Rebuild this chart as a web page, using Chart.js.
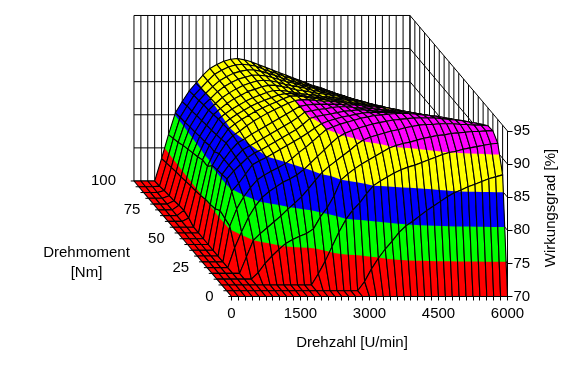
<!DOCTYPE html>
<html>
<head>
<meta charset="utf-8">
<title>Wirkungsgrad</title>
<script src="https://cdn.jsdelivr.net/npm/chart.js@4"></script>
<style>
  html, body { margin: 0; padding: 0; background: #ffffff; }
  canvas { display: block; }
</style>
</head>
<body>
<canvas id="chart" width="580" height="371"></canvas>
<script>
const speedValues = [0,150,300,450,600,750,900,1050,1200,1350,1500,1650,1800,1950,2100,2250,2400,2550,2700,2850,3000,3150,3300,3450,3600,3750,3900,4050,4200,4350,4500,4650,4800,4950,5100,5250,5400,5550,5700,5850,6000];
const torqueValues = [0,5,10,15,20,25,30,35,40,45,50,55,60,65,70,75,80,85,90,95,100];
const effTicks = [70,75,80,85,90,95];
const torqueLabels = [0,25,50,75,100];
const bandColors = ['#ff0000','#00ff00','#0000ff','#ffff00','#ff00ff'];

// efficiency in %, one row per torque value, one column per speed value
const eff0   = [70,70,70,70,70,70,70,70,70,70,70,70,70,70,70,70,70,70,70,70,70,70,70,70,70,70,70,70,70,70,70,70,70,70,70,70,70,70,70,70,70];
const eff5   = [70,70,70,70,70,70,70,70,70,70,70,70,70,70,70,70,70,70,70,70,71.4,73.3,74.9,76.3,77.5,78.8,79.8,80.5,81.3,82.1,82.8,83.5,84.2,84.8,85.2,85.7,86.1,86.5,86.9,87.2,87.5];
const eff10  = [70,70,70,70,70,70,70,70,70,70,70,70,70,70,71.7,73.6,75.8,78,79.9,81.3,82.4,83.8,85,85.7,86.3,86.9,87.4,87.8,88.1,88.5,88.9,89.3,89.7,90,90.2,90.5,90.7,90.9,91.1,91.3,91.4];
const eff15  = [70,70,70,70,70,70,71,72.4,73.5,74.5,75.4,76,76.5,76.9,77.6,79.4,80.8,82.6,85,85.9,86.7,87.4,88,88.6,89.2,89.8,90.2,90.5,90.7,91,91.3,91.5,91.7,91.8,92,92.1,92.2,92.3,92.3,92.4,92.4];
const eff20  = [70,70,70,70,70,72.5,75,76,76.9,77.8,78.7,79.7,80.6,81.6,82.8,84.1,85.3,86.2,87,87.8,88.6,89.5,90.2,90.6,90.9,91.2,91.5,91.7,92,92.2,92.4,92.5,92.5,92.6,92.6,92.6,92.5,92.5,92.4,92.4,92.3];
const eff25  = [70,70,70,70,73,75.4,77.6,79.3,80.6,81.5,82.2,82.9,83.4,84,84.8,85.8,86.8,87.8,88.8,89.7,90.3,90.7,91.1,91.4,91.7,91.9,92.1,92.3,92.4,92.5,92.6,92.6,92.6,92.6,92.5,92.4,92.3,92.2,92,91.8,91.6];
const eff30  = [70,70,70,70,75.4,78,79.8,81.2,82.4,83.1,83.7,84.2,84.8,85.6,86.5,87.3,88.2,89.1,90,90.4,90.8,91.1,91.4,91.7,91.9,92.1,92.2,92.3,92.4,92.4,92.4,92.3,92.2,92.1,92,91.8,91.6,91.4,91.2,91,90.8];
const eff35  = [70,70,70,70,75.7,79.8,81,82.4,83.8,84.4,84.9,85.5,86.1,86.7,87.3,87.9,88.6,89.3,90,90.4,90.7,91,91.2,91.4,91.6,91.7,91.7,91.7,91.7,91.7,91.6,91.5,91.4,91.3,91.1,90.9,90.7,90.5,90.3,90.1,90];
const eff40  = [70,70,70,70,76,80.8,82,83,84,84.7,85.2,85.8,86.4,87,87.6,88.2,89,89.9,90.2,90.4,90.6,90.8,91,91.1,91.2,91.2,91.1,91,91,91,90.9,90.8,90.7,90.6,90.4,90.2,90,89.8,89.6,89.4,89.2];
const eff45  = [70,70,70,70,75.4,80.6,82,83.2,84.3,84.9,85.5,86.1,86.7,87.3,87.9,88.5,89.2,90,90.2,90.4,90.5,90.7,90.8,90.8,90.7,90.6,90.6,90.5,90.4,90.3,90.2,90.1,90,89.8,89.6,89.4,89.2,89,88.8,88.6,88.4];
const eff50  = [70,70,70,70,75.2,80.4,82,83.4,84.5,85.1,85.8,86.4,87,87.6,88.2,88.8,89.4,90,90.2,90.3,90.3,90.3,90.3,90.3,90.2,90.2,90.1,90,89.9,89.8,89.7,89.5,89.3,89.1,88.9,88.7,88.5,88.3,88.1,87.9,87.8];
const eff55  = [70,70,70,70,75.1,80.2,82,83.6,84.7,85.4,86.2,86.9,87.5,88.1,88.6,89.1,89.6,90,90.1,90.1,90,89.9,89.9,89.8,89.7,89.6,89.4,89.3,89.2,89.1,88.9,88.7,88.5,88.3,88.1,87.9,87.7,87.5,87.3,87.2,87];
const eff60  = [70,70,70,70,74.8,79.2,81.4,83.3,84.8,85.6,86.3,86.9,87.5,88,88.5,88.9,89.4,89.8,89.8,89.7,89.5,89.4,89.3,89.2,89.1,88.9,88.8,88.7,88.5,88.4,88.2,88,87.8,87.6,87.4,87.2,87,86.8,86.6,86.5,86.3];
const eff65  = [70,70,70,70.5,74.6,79.3,81.5,83.1,84.7,85.5,86.2,86.8,87.4,87.9,88.3,88.7,89.1,89.3,89.3,89.1,88.9,88.8,88.7,88.6,88.5,88.4,88.3,88.2,88,87.8,87.6,87.4,87.1,86.8,86.6,86.4,86.2,86,85.8,85.6,85.5];
const eff70  = [70,70,70,70.8,74.5,78.9,81.2,82.9,84.6,85.4,86.1,86.7,87.3,87.8,88.2,88.6,88.9,88.9,88.8,88.6,88.4,88.3,88.2,88,87.9,87.8,87.7,87.5,87.3,87.1,86.9,86.6,86.3,86.1,85.8,85.6,85.4,85.2,85,84.8,84.7];
const eff75  = [70,70,70,70.7,74.3,78.6,81.1,82.8,84.4,85.3,86.1,86.8,87.3,87.9,88.2,88.6,88.8,88.8,88.6,88.4,88.1,88,87.8,87.6,87.5,87.3,87.2,86.9,86.7,86.5,86.2,85.9,85.6,85.4,85.1,84.9,84.7,84.5,84.3,84.1,84];
const eff80  = [70,70,70,70.5,74.1,78.3,80.9,82.6,84.2,85.2,86.1,86.8,87.4,87.9,88.3,88.6,88.7,88.6,88.4,88.1,87.9,87.7,87.5,87.2,87,86.8,86.6,86.4,86.1,85.8,85.6,85.3,84.9,84.7,84.4,84.2,84,83.8,83.6,83.4,83.2];
const eff85  = [70,70,70,70.4,74,78,80.8,82.5,84.1,85.1,86.1,86.9,87.5,88,88.3,88.6,88.6,88.5,88.2,87.9,87.6,87.4,87.1,86.8,86.6,86.3,86.1,85.8,85.5,85.2,84.9,84.6,84.3,84,83.7,83.5,83.3,83.1,82.9,82.7,82.5];
const eff90  = [70,70,70,70.3,73.8,77.6,80.6,82.3,83.9,85,86,86.9,87.5,88,88.3,88.5,88.5,88.3,88,87.7,87.3,87,86.7,86.4,86.1,85.8,85.5,85.2,84.9,84.6,84.2,83.9,83.6,83.3,83,82.7,82.5,82.3,82.1,81.9,81.8];
const eff95  = [70,70,70,70.1,73.6,77.3,80.5,82.2,83.8,84.9,86,87,87.6,88.1,88.4,88.5,88.4,88.2,87.8,87.4,87.1,86.7,86.4,86,85.7,85.3,85,84.7,84.3,83.9,83.6,83.3,82.9,82.6,82.3,82,81.8,81.6,81.4,81.2,81];
const eff100 = [70,70,70,70,73.4,77,80.3,82,83.6,84.8,86,87,87.6,88.1,88.4,88.5,88.3,88,87.6,87.2,86.8,86.4,86,85.6,85.2,84.8,84.4,84.1,83.7,83.3,82.9,82.6,82.2,81.9,81.6,81.3,81.1,80.9,80.7,80.5,80.3];
const effRows = [eff0,eff5,eff10,eff15,eff20,eff25,eff30,eff35,eff40,eff45,eff50,eff55,eff60,eff65,eff70,eff75,eff80,eff85,eff90,eff95,eff100];

// oblique view: one Nm moves a point this far along the speed and efficiency axes
const rpmPerNm = 21.2;
const effPerNm = 0.1745;
function project(rpm, torque, eff) {
  return {x: rpm - torque * rpmPerNm, y: eff + torque * effPerNm};
}

// surface points, row after row
const surfacePoints = [];
torqueValues.forEach((t, j) => {
  speedValues.forEach((n, i) => surfacePoints.push(project(n, t, effRows[j][i])));
});

// back wall and right wall, segments split by empty points
const gap = {x: null, y: null};
const wallPoints = [];
speedValues.forEach(n => wallPoints.push(project(n, 100, 70), project(n, 100, 95), gap));
torqueValues.forEach(t => wallPoints.push(project(6000, t, 70), project(6000, t, 95), gap));
effTicks.forEach(e => {
  wallPoints.push(project(0, 100, e), project(6000, 100, e), project(6000, 0, e), gap);
});

const torqueTickPoints = [];
torqueValues.forEach(t => torqueTickPoints.push(project(0, t, 70), project(-70, t, 70), gap));

const surfacePlugin = {
  id: 'surface',
  afterDatasetsDraw(chart) {
    const ctx = chart.ctx;
    const pts = chart.getDatasetMeta(0).data;
    const cols = speedValues.length;
    ctx.save();
    ctx.lineJoin = 'round';
    // painter's order, back rows first
    for (let j = torqueValues.length - 1; j > 0; j--) {
      for (let i = 0; i < cols - 1; i++) {
        const corners = [[j, i], [j, i + 1], [j - 1, i + 1], [j - 1, i]].map(([r, c]) => ({
          x: pts[r * cols + c].x,
          y: pts[r * cols + c].y,
          z: effRows[r][c]
        }));
        // each colour is painted over the one below it, so no seams show
        bandColors.forEach((color, k) => {
          const poly = clipAbove(corners, effTicks[k]);
          if (poly.length < 3) return;
          tracePoly(ctx, poly);
          ctx.fillStyle = color;
          ctx.fill();
        });
        tracePoly(ctx, corners);
        ctx.strokeStyle = '#000000';
        ctx.lineWidth = 1.1;
        ctx.stroke();
      }
    }
    ctx.restore();
    drawTexts(chart);
  }
};

function clipAbove(poly, level) {
  const out = [];
  poly.forEach((a, idx) => {
    const b = poly[(idx + 1) % poly.length];
    if (a.z >= level) out.push(a);
    if ((a.z >= level) !== (b.z >= level)) {
      const f = (level - a.z) / (b.z - a.z);
      out.push({x: a.x + (b.x - a.x) * f, y: a.y + (b.y - a.y) * f, z: level});
    }
  });
  return out;
}

function tracePoly(ctx, poly) {
  ctx.beginPath();
  poly.forEach((p, idx) => idx ? ctx.lineTo(p.x, p.y) : ctx.moveTo(p.x, p.y));
  ctx.closePath();
}

function drawTexts(chart) {
  const ctx = chart.ctx;
  const xs = chart.scales.x;
  const ys = chart.scales.y;
  ctx.save();
  ctx.fillStyle = '#000000';
  ctx.font = '15px "Liberation Sans", Arial, sans-serif';
  ctx.textBaseline = 'middle';

  // torque labels follow the slanted edge of the floor
  ctx.textAlign = 'right';
  torqueLabels.forEach(t => {
    const p = project(0, t, 70);
    ctx.fillText(String(t), xs.getPixelForValue(p.x) - 18, ys.getPixelForValue(p.y));
  });

  ctx.textAlign = 'center';
  ctx.fillText('Drehmoment', 86.5, 253);
  ctx.fillText('[Nm]', 86.5, 273);
  ctx.fillText('Drehzahl [U/min]', 352, 343);

  ctx.translate(551, 208);
  ctx.rotate(-Math.PI / 2);
  ctx.fillText('Wirkungsgrad [%]', 0, 0);
  ctx.restore();
}

const axisFont = {family: '"Liberation Sans", Arial, sans-serif', size: 15};

new Chart(document.getElementById('chart'), {
  type: 'scatter',
  data: {
    datasets: [
      {
        label: 'Wirkungsgrad',
        data: surfacePoints,
        pointRadius: 0,
        pointHoverRadius: 0,
        showLine: false
      },
      {
        label: 'Wand',
        data: wallPoints,
        showLine: true,
        spanGaps: false,
        clip: false,
        pointRadius: 0,
        borderColor: '#000000',
        borderWidth: 1,
        tension: 0
      },
      {
        label: 'Drehmoment',
        data: torqueTickPoints,
        showLine: true,
        spanGaps: false,
        clip: false,
        pointRadius: 0,
        borderColor: '#000000',
        borderWidth: 1,
        tension: 0
      }
    ]
  },
  plugins: [surfacePlugin],
  options: {
    responsive: false,
    animation: false,
    events: [],
    layout: {padding: {left: 231.5, top: 131, right: 0, bottom: 0}},
    plugins: {
      legend: {display: false},
      tooltip: {enabled: false}
    },
    scales: {
      x: {
        type: 'linear',
        min: 0,
        max: 6000,
        afterFit: scale => { scale.height = 74.5; },
        border: {color: '#000000'},
        grid: {drawOnChartArea: false, drawTicks: true, tickLength: 4, color: '#000000'},
        ticks: {
          stepSize: 150,
          autoSkip: false,
          maxRotation: 0,
          padding: 4,
          color: '#000000',
          font: axisFont,
          callback: v => (v % 1500 === 0 ? String(v) : '')
        }
      },
      y: {
        type: 'linear',
        position: 'right',
        min: 70,
        max: 95,
        afterFit: scale => { scale.width = 72.5; },
        border: {color: '#000000'},
        grid: {drawOnChartArea: false, drawTicks: true, tickLength: 5, color: '#000000'},
        ticks: {stepSize: 5, padding: 1, color: '#000000', font: axisFont}
      }
    }
  }
});
</script>
</body>
</html>
